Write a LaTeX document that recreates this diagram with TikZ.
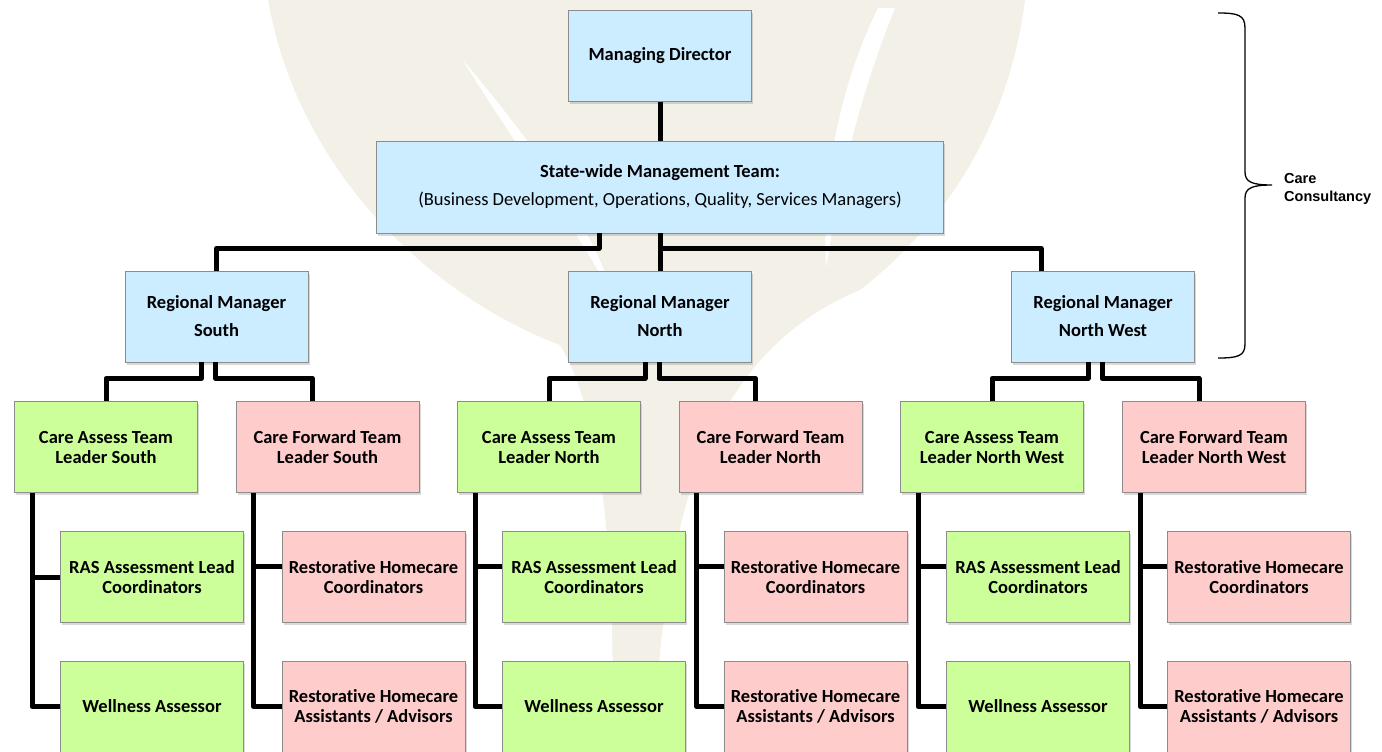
\documentclass[tikz,border=0pt]{standalone}
\usepackage{fontspec}
\setmainfont{Carlito}[Ligatures=NoCommon]
\newfontfamily\bracefont{Liberation Sans}
\usetikzlibrary{shadows}
\definecolor{mgrblue}{RGB}{204,236,255}
\definecolor{assessgreen}{RGB}{204,255,153}
\definecolor{forwardpink}{RGB}{255,204,204}
\definecolor{leafbeige}{RGB}{243,240,231}
\begin{document}
\begin{tikzpicture}[x=1pt,y=-1pt,
  box/.style={draw=black!45,line width=0.8pt,minimum width=183pt,minimum height=91pt,
    align=center,inner sep=2pt,font=\fontsize{18.5}{20}\selectfont\bfseries,
    drop shadow={shadow xshift=1.5pt,shadow yshift=-2.5pt,opacity=0.3}},
  mgr/.style={box,fill=mgrblue,font=\fontsize{18.5}{28}\selectfont\bfseries},
  assess/.style={box,fill=assessgreen},
  forward/.style={box,fill=forwardpink},
  link/.style={line width=5pt,line join=round}]
\useasboundingbox (0,0) rectangle (1382,752);
\fill[leafbeige] (268,0) -- (1025,0) .. controls (1010,120) and (950,220) .. (860,290)
  .. controls (740,340) and (660,460) .. (655,752) -- (612,752)
  .. controls (615,600) and (610,430) .. (560,345) .. controls (440,300) and (300,180) .. (268,0) -- cycle;
\fill[white] (463,60) .. controls (530,140) and (590,220) .. (615,300) .. controls (565,210) and (505,130) .. (463,60) -- cycle;
\fill[white] (878,8) .. controls (838,90) and (822,180) .. (826,268) .. controls (840,180) and (858,100) .. (895,8) -- cycle;

\node[mgr] (md) at (660,56) {Managing Director};
\node[mgr,minimum width=567pt,minimum height=92pt] (smt) at (660,187)
  {State-wide Management Team:\\{\mdseries (Business Development, Operations, Quality, Services Managers)}};
\node[mgr] (rms) at (216.5,316.5) {Regional Manager\\South};
\node[mgr] (rmn) at (660,316.5) {Regional Manager\\North};
\node[mgr] (rmw) at (1103,316.5) {Regional Manager\\North West};

\node[assess] (cas) at (106,447) {Care Assess Team\\Leader South};
\node[forward] (cfs) at (327.5,447) {Care Forward Team\\Leader South};
\node[assess] (can) at (549,447) {Care Assess Team\\Leader North};
\node[forward] (cfn) at (770.5,447) {Care Forward Team\\Leader North};
\node[assess] (caw) at (992,447) {Care Assess Team\\Leader North West};
\node[forward] (cfw) at (1214,447) {Care Forward Team\\Leader North West};

\node[assess] (rass) at (152,577) {RAS Assessment Lead\\Coordinators};
\node[forward] (rhcs) at (373.5,577) {Restorative Homecare\\Coordinators};
\node[assess] (rasn) at (594,577) {RAS Assessment Lead\\Coordinators};
\node[forward] (rhcn) at (815.5,577) {Restorative Homecare\\Coordinators};
\node[assess] (rasw) at (1038,577) {RAS Assessment Lead\\Coordinators};
\node[forward] (rhcw) at (1259,577) {Restorative Homecare\\Coordinators};

\node[assess] (wels) at (152,706.5) {Wellness Assessor};
\node[forward] (rhas) at (373.5,706.5) {Restorative Homecare\\Assistants / Advisors};
\node[assess] (weln) at (594,706.5) {Wellness Assessor};
\node[forward] (rhan) at (815.5,706.5) {Restorative Homecare\\Assistants / Advisors};
\node[assess] (welw) at (1038,706.5) {Wellness Assessor};
\node[forward] (rhaw) at (1259,706.5) {Restorative Homecare\\Assistants / Advisors};

\draw[link] (md) -- (smt);
\draw[link] (smt) -- (rmn);
\draw[link] ([xshift=-61pt]smt.south) -- ++(0,15) -| (rms.north);
\draw[link] ([yshift=-15pt]smt.south) -| ([xshift=-62pt]rmw.north);

\draw[link] ([xshift=-15pt]rms.south) -- ++(0,16) -| (cas.north);
\draw[link] ([xshift=-1pt]rms.south) -- ++(0,16) -| ([xshift=-15pt]cfs.north);
\draw[link] ([xshift=-15pt]rmn.south) -- ++(0,16) -| (can.north);
\draw[link] ([xshift=-1pt]rmn.south) -- ++(0,16) -| ([xshift=-15pt]cfn.north);
\draw[link] ([xshift=-15pt]rmw.south) -- ++(0,16) -| (caw.north);
\draw[link] ([xshift=-1pt]rmw.south) -- ++(0,16) -| ([xshift=-15pt]cfw.north);

\coordinate (cas-l) at ([xshift=18pt]cas.south west);
\coordinate (cfs-l) at ([xshift=18pt]cfs.south west);
\coordinate (can-l) at ([xshift=18pt]can.south west);
\coordinate (cfn-l) at ([xshift=18pt]cfn.south west);
\coordinate (caw-l) at ([xshift=18pt]caw.south west);
\coordinate (cfw-l) at ([xshift=18pt]cfw.south west);
\coordinate (rhcs-b) at ([yshift=11pt]rhcs.west);
\coordinate (rasn-b) at ([yshift=11pt]rasn.west);
\coordinate (rhcn-b) at ([yshift=11pt]rhcn.west);
\coordinate (rasw-b) at ([yshift=11pt]rasw.west);
\coordinate (rhcw-b) at ([yshift=11pt]rhcw.west);

\draw[link] (cas-l) |- (wels.west);
\draw[link] (cas-l |- rass.west) -- (rass.west);
\draw[link] (cfs-l) |- (rhas.west);
\draw[link] (cfs-l |- rhcs-b) -- (rhcs-b);
\draw[link] (can-l) |- (weln.west);
\draw[link] (can-l |- rasn-b) -- (rasn-b);
\draw[link] (cfn-l) |- (rhan.west);
\draw[link] (cfn-l |- rhcn-b) -- (rhcn-b);
\draw[link] (caw-l) |- (welw.west);
\draw[link] (caw-l |- rasw-b) -- (rasw-b);
\draw[link] (cfw-l) |- (rhaw.west);
\draw[link] (cfw-l |- rhcw-b) -- (rhcw-b);

\draw[line width=1.3pt] (1218,13) .. controls (1238,13) and (1245,15) .. (1245,28) -- (1245,172)
  .. controls (1245,182) and (1252,185) .. (1272,185) .. controls (1252,185) and (1245,188) .. (1245,198)
  -- (1245,344) .. controls (1245,356) and (1238,358) .. (1218,358);
\node[anchor=west,align=left,inner sep=0pt,font=\bracefont\bfseries\fontsize{14.5}{17.5}\selectfont] (cc) at (1284,189) {Care\\Consultancy};
\end{tikzpicture}
\end{document}
